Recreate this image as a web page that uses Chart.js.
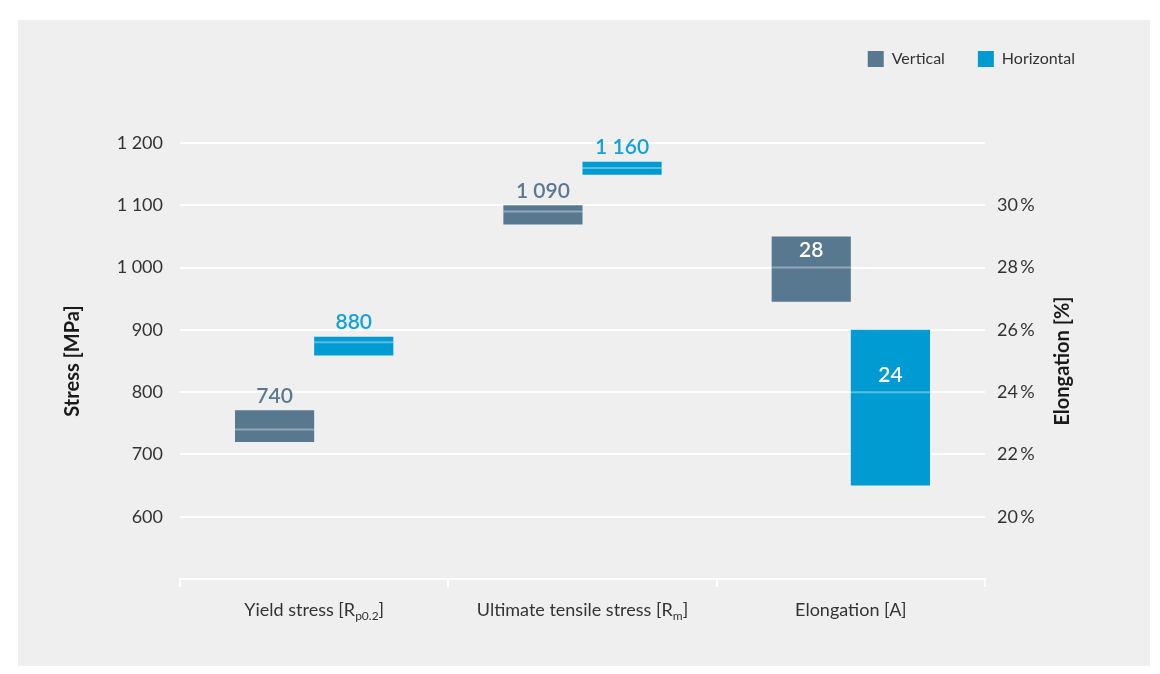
<!DOCTYPE html>
<html>
<head>
<meta charset="utf-8">
<script src="https://cdn.jsdelivr.net/npm/chart.js@4.4.1/dist/chart.umd.min.js"></script>
<style>
html,body{margin:0;padding:0;background:#fff;}
#wrap{width:1160px;height:674px;position:relative;}
canvas{display:block;}
</style>
</head>
<body>
<div id="wrap"><canvas id="c" width="1160" height="674"></canvas></div>
<script>
// ---- data ----
const categories = ['Yield stress [Rp0.2]', 'Ultimate tensile stress [Rm]', 'Elongation [A]'];
const categoryParts = [['Yield stress [R', 'p0.2', ']'], ['Ultimate tensile stress [R', 'm', ']'], ['Elongation [A]', '', '']];
const seriesNames = ['Vertical', 'Horizontal'];
const verticalStressRange = [[720, 771], [1069, 1100], null];
const horizontalStressRange = [[859, 889], [1149, 1170], null];
const verticalElongRange = [null, null, [26.9, 29.0]];
const horizontalElongRange = [null, null, [21, 26]];
const verticalMean = [740, 1090, 28];
const horizontalMean = [880, 1160, 24];
const stressTicks = [600, 700, 800, 900, 1000, 1100, 1200];
const elongTicks = [20, 22, 24, 26, 28, 30];

const colVertical = '#587890';
const colHorizontal = '#009bd3';
const NNBSP = '\u202F';
function fmt(v) {
  const s = String(v);
  return v >= 1000 ? s.slice(0, s.length - 3) + NNBSP + s.slice(-3) : s;
}

Chart.defaults.font.family = 'Lato, "Open Sans", sans-serif';
Chart.defaults.color = '#333';

const panelPlugin = {
  id: 'panel',
  beforeDraw(chart) {
    const ctx = chart.ctx;
    ctx.save();
    ctx.fillStyle = '#ffffff';
    ctx.fillRect(0, 0, chart.width, chart.height);
    ctx.fillStyle = '#efefef';
    ctx.fillRect(18, 20, 1132, 646);
    ctx.restore();
  }
};

const markPlugin = {
  id: 'marks',
  afterDatasetsDraw(chart) {
    const ctx = chart.ctx;
    chart.data.datasets.forEach((ds, di) => {
      const meta = chart.getDatasetMeta(di);
      const scale = chart.scales[ds.yAxisID];
      meta.data.forEach((bar, i) => {
        if (ds.data[i] == null) return;
        const m = ds.means[i];
        const py = scale.getPixelForValue(m);
        const half = bar.width / 2;
        ctx.save();
        ctx.strokeStyle = 'rgba(255,255,255,0.35)';
        ctx.lineWidth = 2;
        ctx.beginPath();
        ctx.moveTo(bar.x - half, py);
        ctx.lineTo(bar.x + half, py);
        ctx.stroke();
        ctx.font = '600 21px Lato, "Open Sans", sans-serif';
        ctx.textAlign = 'center';
        ctx.textBaseline = 'middle';
        const top = Math.min(bar.y, bar.base);
        if (ds.labelInside) {
          ctx.fillStyle = '#ffffff';
          ctx.fillText(fmt(m), bar.x, py - 17);
        } else {
          ctx.fillStyle = ds.labelColor;
          ctx.fillText(fmt(m), bar.x, top - 14);
        }
        ctx.restore();
      });
    });
  }
};

const textPlugin = {
  id: 'texts',
  afterDraw(chart) {
    const ctx = chart.ctx;
    const xs = chart.scales.x;
    ctx.save();
    ctx.fillStyle = '#333';
    ctx.textBaseline = 'alphabetic';
    ctx.textAlign = 'left';
    const mainFont = '18px Lato, "Open Sans", sans-serif';
    const subFont = '12px Lato, "Open Sans", sans-serif';
    const baseY = xs.top + 37;
    categoryParts.forEach((p, i) => {
      const cx = xs.getPixelForValue(i);
      ctx.font = mainFont;
      const w1 = ctx.measureText(p[0]).width;
      const w3 = ctx.measureText(p[2]).width;
      ctx.font = subFont;
      const w2 = ctx.measureText(p[1]).width;
      let x = cx - (w1 + w2 + w3) / 2;
      ctx.font = mainFont;
      ctx.fillText(p[0], x, baseY);
      x += w1;
      ctx.font = subFont;
      ctx.fillText(p[1], x, baseY + 4);
      x += w2;
      ctx.font = mainFont;
      ctx.fillText(p[2], x, baseY);
    });
    // right axis title, reading bottom-to-top
    const ys2 = chart.scales.y2;
    const ca = chart.chartArea;
    ctx.translate(ys2.left + 78, (ca.top + ca.bottom) / 2);
    ctx.rotate(-Math.PI / 2);
    ctx.font = 'bold 20px Lato, "Open Sans", sans-serif';
    ctx.fillStyle = '#1a1a1a';
    ctx.textAlign = 'center';
    ctx.textBaseline = 'middle';
    ctx.fillText('Elongation [%]', 0, 0);
    ctx.restore();
  }
};

new Chart(document.getElementById('c'), {
  type: 'bar',
  data: {
    labels: categories,
    datasets: [
      { label: seriesNames[0], data: verticalStressRange, yAxisID: 'y', xAxisID: 'x', stack: 'v',
        backgroundColor: colVertical, borderWidth: 0, means: verticalMean, labelColor: '#5a7891', labelInside: false },
      { label: seriesNames[1], data: horizontalStressRange, yAxisID: 'y', xAxisID: 'x', stack: 'h',
        backgroundColor: colHorizontal, borderWidth: 0, means: horizontalMean, labelColor: '#12a1dc', labelInside: false },
      { label: seriesNames[0], data: verticalElongRange, yAxisID: 'y2', xAxisID: 'x', stack: 'v',
        backgroundColor: colVertical, borderWidth: 0, means: verticalMean, labelInside: true },
      { label: seriesNames[1], data: horizontalElongRange, yAxisID: 'y2', xAxisID: 'x', stack: 'h',
        backgroundColor: colHorizontal, borderWidth: 0, means: horizontalMean, labelInside: true }
    ]
  },
  options: {
    responsive: false,
    animation: false,
    devicePixelRatio: 1,
    layout: { padding: { top: 18, right: 52, left: 0, bottom: 0 } },
    datasets: { bar: { categoryPercentage: 0.59, barPercentage: 1.0 } },
    plugins: {
      legend: {
        position: 'top',
        align: 'end',
        labels: {
          boxWidth: 16, boxHeight: 16, padding: 33, color: '#333',
          font: { size: 16 },
          filter: (item) => item.datasetIndex < 2
        }
      },
      tooltip: { enabled: false }
    },
    scales: {
      x: {
        type: 'category',
        position: 'bottom',
        offset: true,
        grid: { offset: true, drawOnChartArea: false, drawTicks: true, tickLength: 8, color: '#ffffff', lineWidth: 2 },
        border: { display: true, color: '#ffffff', width: 2 },
        ticks: { display: false },
        afterFit(s) { s.height = 95; }
      },
      spacer: {
        type: 'category',
        labels: categories,
        position: 'top',
        display: true,
        grid: { display: false },
        border: { display: false },
        ticks: { display: false },
        afterFit(s) { s.height = 143 - 18 - s.chart.legend.height; }
      },
      y: {
        type: 'linear',
        position: 'left',
        stacked: false,
        min: 500, max: 1200,
        grid: { color: '#ffffff', lineWidth: 2, drawTicks: false },
        border: { display: false },
        ticks: {
          stepSize: 100, padding: 17, color: '#333', font: { size: 18 },
          callback: (v) => stressTicks.includes(v) ? fmt(v) : ''
        },
        title: { display: true, text: 'Stress [MPa]', color: '#1a1a1a', font: { size: 20, weight: 'bold' }, padding: { top: 61, bottom: 0 } },
        afterFit(s) { s.width = 180; }
      },
      y2: {
        type: 'linear',
        position: 'right',
        stacked: false,
        min: 18, max: 32,
        grid: { display: false, drawOnChartArea: false, drawTicks: false },
        border: { display: false },
        ticks: {
          stepSize: 2, padding: 12, color: '#333', font: { size: 18 },
          callback: (v) => elongTicks.includes(v) ? v + '\u2009%' : ''
        },
        afterFit(s) { s.width = 123; }
      }
    }
  },
  plugins: [panelPlugin, markPlugin, textPlugin]
});
</script>
</body>
</html>
